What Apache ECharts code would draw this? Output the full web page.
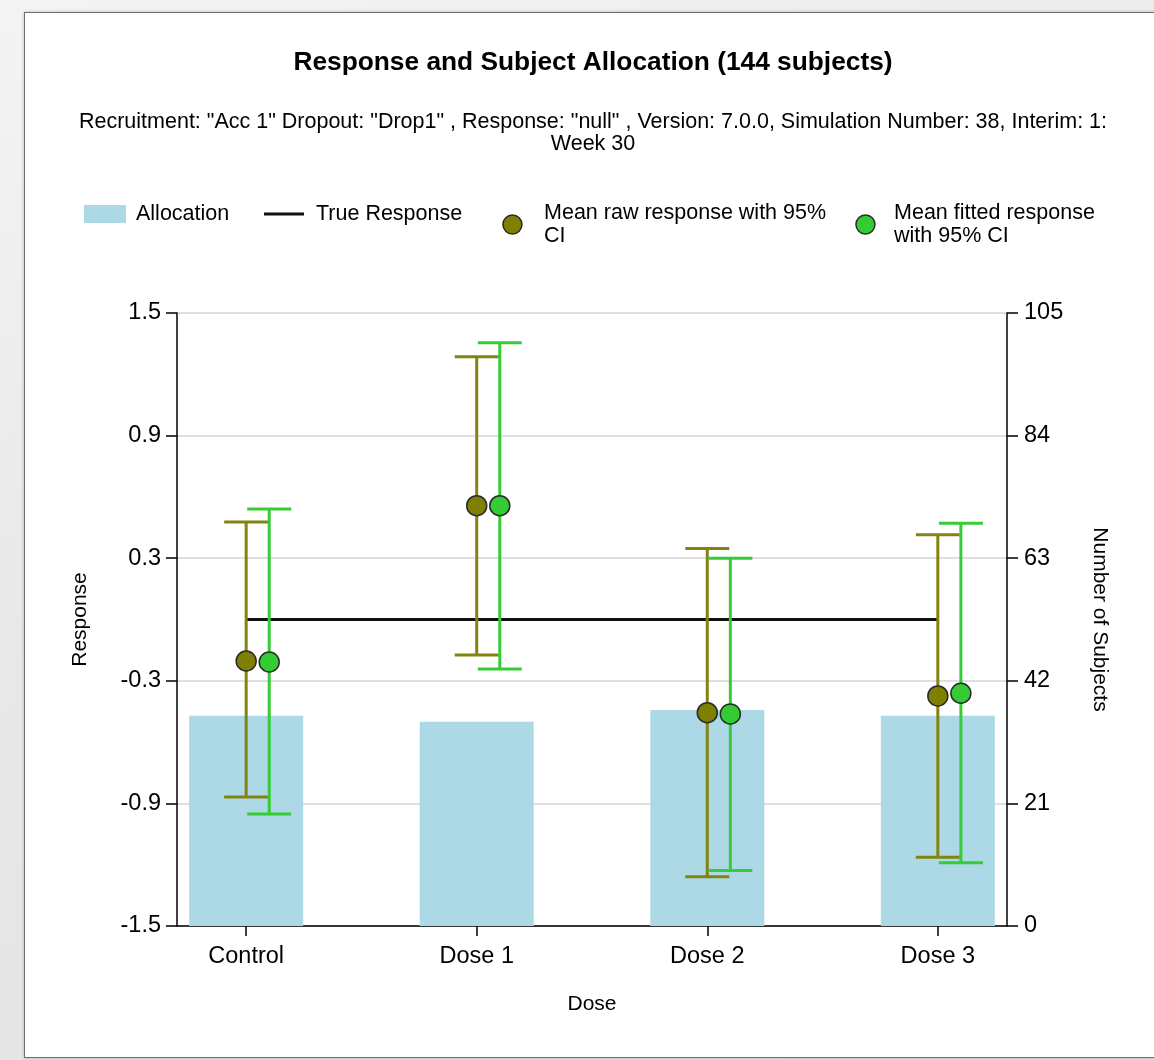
<!DOCTYPE html>
<html>
<head>
<meta charset="utf-8">
<script src="https://cdn.jsdelivr.net/npm/echarts@6/dist/echarts.min.js"></script>
<style>
  html, body { margin:0; padding:0; width:1154px; height:1060px; overflow:hidden;
    background: linear-gradient(160deg, #f4f4f4 0%, #e9e9e9 40%, #e2e2e2 100%); }
  #panel { position:absolute; left:24px; top:12px; width:1140px; height:1044px;
    background:#fff; border:1.5px solid #6e6e6e; box-shadow: 0 0 3px rgba(0,0,0,0.25); }
  #chart { position:absolute; left:0; top:0; width:1154px; height:1060px; }
</style>
</head>
<body>
<div id="panel"></div>
<div id="chart"></div>
<script>
// ---- data ----
const categories = ['Control', 'Dose 1', 'Dose 2', 'Dose 3'];
const dosePositions = [0, 1, 2, 3];
const allocation = [36, 35, 37, 36];
const trueResponse = [0, 0, 0, 0];
const rawMean  = [-0.203, 0.557, -0.456, -0.374];
const rawLower = [-0.869, -0.174, -1.259, -1.164];
const rawUpper = [0.477, 1.286, 0.347, 0.415];
const fitMean  = [-0.208, 0.557, -0.462, -0.361];
const fitLower = [-0.952, -0.242, -1.228, -1.190];
const fitUpper = [0.541, 1.355, 0.300, 0.471];
const responseTicks = [-1.5, -0.9, -0.3, 0.3, 0.9, 1.5];
const subjectTicks = [0, 21, 42, 63, 84, 105];

const FONT = "'Liberation Sans', Arial, sans-serif";
const OLIVE = '#838310';
const GREEN = '#36cc36';
const FIT_OFFSET = 0.1;

function errorRender(color, offset) {
  return function (params, api) {
    const x = api.value(0) + offset;
    const lo = api.coord([x, api.value(1)]);
    const hi = api.coord([x, api.value(2)]);
    const half = 22;
    const st = { stroke: color, lineWidth: 3 };
    return {
      type: 'group',
      children: [
        { type: 'line', shape: { x1: lo[0], y1: lo[1], x2: hi[0], y2: hi[1] }, style: st },
        { type: 'line', shape: { x1: lo[0] - half, y1: lo[1], x2: lo[0] + half, y2: lo[1] }, style: st },
        { type: 'line', shape: { x1: hi[0] - half, y1: hi[1], x2: hi[0] + half, y2: hi[1] }, style: st }
      ]
    };
  };
}

const chart = echarts.init(document.getElementById('chart'), null, { renderer: 'canvas' });

function legendText(pad) {
  return { fontFamily: FONT, fontSize: 21.5, color: '#000', lineHeight: 23, padding: [0, 0, 0, pad] };
}
const markerLegendStyle = { borderColor: '#2a2a2a', borderWidth: 1.5 };

const option = {
  animation: false,
  backgroundColor: 'transparent',
  title: {
    text: 'Response and Subject Allocation (144 subjects)',
    subtext: 'Recruitment: "Acc 1" Dropout: "Drop1" , Response: "null" , Version: 7.0.0, Simulation Number: 38, Interim: 1:\nWeek 30',
    left: 593, top: 48, textAlign: 'center', itemGap: 33, padding: 0,
    textStyle: { fontFamily: FONT, fontSize: 26.3, fontWeight: 'bold', color: '#000', lineHeight: 30 },
    subtextStyle: { fontFamily: FONT, fontSize: 21.5, color: '#000', lineHeight: 22, align: 'center' }
  },
  legend: [
    { left: 84, top: 202.5, padding: 0, icon: 'rect', itemWidth: 42, itemHeight: 18, data: ['Allocation'],
      textStyle: legendText(5), selectedMode: false },
    { left: 264, top: 202.5, padding: 0, icon: 'rect', itemWidth: 40, itemHeight: 3, data: ['True Response'],
      textStyle: legendText(7), selectedMode: false },
    { left: 502.2, top: 201.5, padding: 0, icon: 'circle', itemWidth: 19, itemHeight: 19,
      data: ['Mean raw response with 95% CI'], itemStyle: markerLegendStyle,
      formatter: () => 'Mean raw response with 95%\nCI', textStyle: legendText(17.1), selectedMode: false },
    { left: 855.2, top: 201.5, padding: 0, icon: 'circle', itemWidth: 19, itemHeight: 19,
      data: ['Mean fitted response with 95% CI'], itemStyle: markerLegendStyle,
      formatter: () => 'Mean fitted response\nwith 95% CI', textStyle: legendText(14.1), selectedMode: false }
  ],
  grid: { left: 177, right: 147, top: 313, bottom: 134, containLabel: false },
  xAxis: {
    type: 'value', min: -0.3, max: 3.3,
    name: 'Dose', nameLocation: 'middle', nameGap: 68,
    nameTextStyle: { fontFamily: FONT, fontSize: 21, color: '#000' },
    axisLine: { show: true, onZero: false, lineStyle: { color: '#000', width: 1.5 } },
    axisTick: { show: true, length: 10, customValues: dosePositions, lineStyle: { color: '#000', width: 1.5 } },
    axisLabel: { customValues: dosePositions, formatter: v => categories[Math.round(v)], margin: 19,
      fontFamily: FONT, fontSize: 23.5, color: '#000' },
    splitLine: { show: false }
  },
  yAxis: [
    {
      type: 'value', min: -1.5, max: 1.5, interval: 0.6, position: 'left',
      name: 'Response', nameLocation: 'middle', nameGap: 86, nameRotate: 90,
      nameTextStyle: { fontFamily: FONT, fontSize: 21, color: '#000' },
      axisLine: { show: true, onZero: false, lineStyle: { color: '#000', width: 1.5 } },
      axisTick: { show: true, length: 11, lineStyle: { color: '#000', width: 1.5 } },
      axisLabel: { margin: 16, fontFamily: FONT, fontSize: 23.5, color: '#000',
        formatter: v => { const r = Math.round(v * 10) / 10; return r.toFixed(1); } },
      splitLine: { show: true, lineStyle: { color: '#d4d4d4', width: 1.5 } }
    },
    {
      type: 'value', min: 0, max: 105, interval: 21, position: 'right',
      name: 'Number of Subjects', nameLocation: 'middle', nameGap: 82, nameRotate: -90,
      nameTextStyle: { fontFamily: FONT, fontSize: 21, color: '#000' },
      axisLine: { show: true, onZero: false, lineStyle: { color: '#000', width: 1.5 } },
      axisTick: { show: true, length: 11, lineStyle: { color: '#000', width: 1.5 } },
      axisLabel: { margin: 17, fontFamily: FONT, fontSize: 23.5, color: '#000' },
      splitLine: { show: false }
    }
  ],
  series: [
    {
      name: 'Allocation', type: 'bar', yAxisIndex: 1, barWidth: 114, z: 1,
      color: '#add8e6', itemStyle: { color: '#add8e6' },
      data: dosePositions.map((p, i) => [p, allocation[i]])
    },
    {
      name: 'True Response', type: 'line', z: 2, symbol: 'none', color: '#111',
      lineStyle: { color: '#111', width: 3 },
      data: dosePositions.map((p, i) => [p, trueResponse[i]])
    },
    {
      name: 'Mean raw response with 95% CI', type: 'custom', z: 3,
      renderItem: errorRender(OLIVE, 0), encode: { x: 0, y: [1, 2] },
      data: dosePositions.map((p, i) => [p, rawLower[i], rawUpper[i]]), color: '#808000'
    },
    {
      name: 'Mean fitted response with 95% CI', type: 'custom', z: 3,
      renderItem: errorRender(GREEN, FIT_OFFSET), encode: { x: 0, y: [1, 2] },
      data: dosePositions.map((p, i) => [p, fitLower[i], fitUpper[i]]), color: '#33cc33'
    },
    {
      name: 'Mean raw response with 95% CI', type: 'scatter', z: 5, symbolSize: 20, color: '#808000',
      itemStyle: { color: '#808000', borderColor: '#2a2a2a', borderWidth: 1.5, opacity: 1 },
      data: dosePositions.map((p, i) => [p, rawMean[i]])
    },
    {
      name: 'Mean fitted response with 95% CI', type: 'scatter', z: 5, symbolSize: 20, color: '#33cc33',
      itemStyle: { color: '#33cc33', borderColor: '#2a2a2a', borderWidth: 1.5, opacity: 1 },
      data: dosePositions.map((p, i) => [p + FIT_OFFSET, fitMean[i]])
    }
  ]
};
chart.setOption(option);
</script>
</body>
</html>
